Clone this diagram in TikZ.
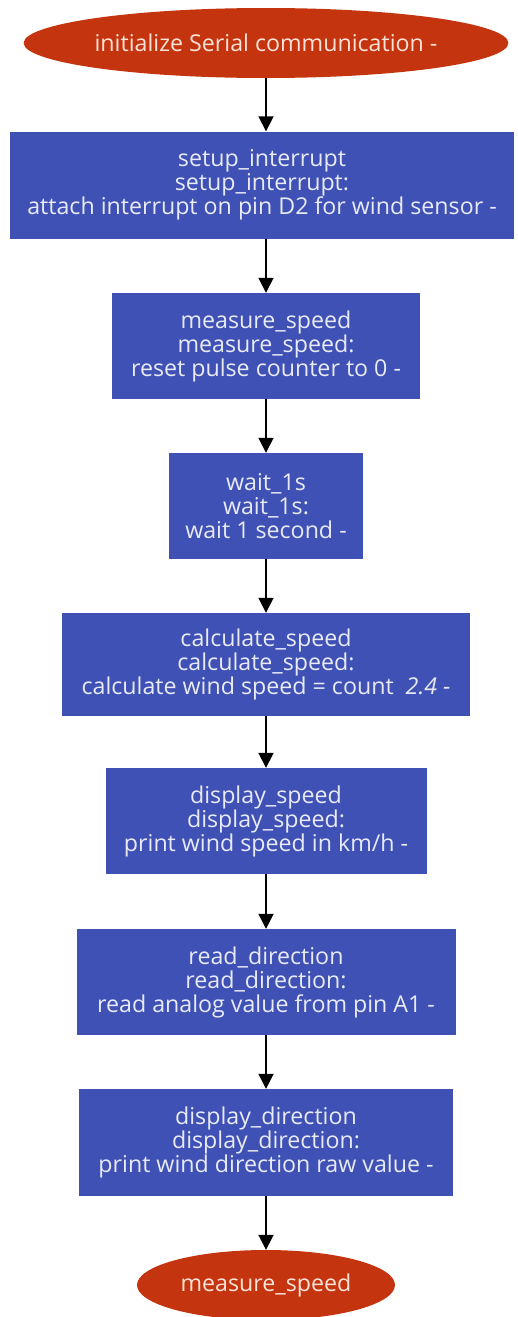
\documentclass[tikz,border=0pt]{standalone}
\usepackage{fontspec}
\setmainfont{Open Sans}
\usetikzlibrary{shapes.geometric,arrows.meta}

\begin{document}
\begin{tikzpicture}[x=1pt,y=-1pt,
    stepbox/.style={rectangle, fill=flowblue, text=boxtext, align=center,
        inner sep=0pt, font=\fontsize{23.2}{24}\selectfont},
    endpoint/.style={ellipse, fill=flowred, text=ovaltext, inner sep=0pt,
        font=\fontsize{23.2}{24}\selectfont},
    flow/.style={-{Triangle[length=15pt,width=15pt]}, line width=1.8pt, black}]
    % colours
    \definecolor{flowblue}{RGB}{63, 81, 181}
    \definecolor{flowred}{RGB}{196, 52, 14}
    \definecolor{boxtext}{RGB}{232, 234, 246}
    \definecolor{ovaltext}{RGB}{252, 226, 216}

    \useasboundingbox[fill=white] (0,0) rectangle (517,1317);

    % start and end
    \node[endpoint, minimum width=475pt, minimum height=70pt] (init) at (266,43)
        {initialize Serial communication -};
    \node[endpoint, minimum width=258pt, minimum height=70pt] (loop) at (266,1285)
        {measure\_speed};

    % steps
    \node[stepbox, minimum width=504pt, minimum height=107pt] (setup) at (262,185)
        {setup\_interrupt\\setup\_interrupt:\\attach interrupt on pin D2 for wind sensor -};
    \node[stepbox, minimum width=308pt, minimum height=106pt] (measure) at (266,346)
        {measure\_speed\\measure\_speed:\\reset pulse counter to 0 -};
    \node[stepbox, minimum width=194pt, minimum height=106pt] (wait) at (266,506)
        {wait\_1s\\wait\_1s:\\wait 1 second -};
    \node[stepbox, minimum width=408pt, minimum height=103pt] (calc) at (266,664.5)
        {calculate\_speed\\calculate\_speed:\\calculate wind speed = count \ \textit{2.4 -}};
    \node[stepbox, minimum width=321pt, minimum height=106pt] (dspeed) at (266,821)
        {display\_speed\\display\_speed:\\print wind speed in km/h -};
    \node[stepbox, minimum width=379pt, minimum height=106pt] (rdir) at (266,982)
        {read\_direction\\read\_direction:\\read analog value from pin A1 -};
    \node[stepbox, minimum width=374pt, minimum height=107pt] (ddir) at (266,1142.5)
        {display\_direction\\display\_direction:\\print wind direction raw value -};

    % connectors
    \draw[flow] (init) -- (setup.north -| init);
    \draw[flow] (setup.south -| init) -- (measure);
    \draw[flow] (measure) -- (wait);
    \draw[flow] (wait) -- (calc);
    \draw[flow] (calc) -- (dspeed);
    \draw[flow] (dspeed) -- (rdir);
    \draw[flow] (rdir) -- (ddir);
    \draw[flow] (ddir) -- (loop);
\end{tikzpicture}
\end{document}
